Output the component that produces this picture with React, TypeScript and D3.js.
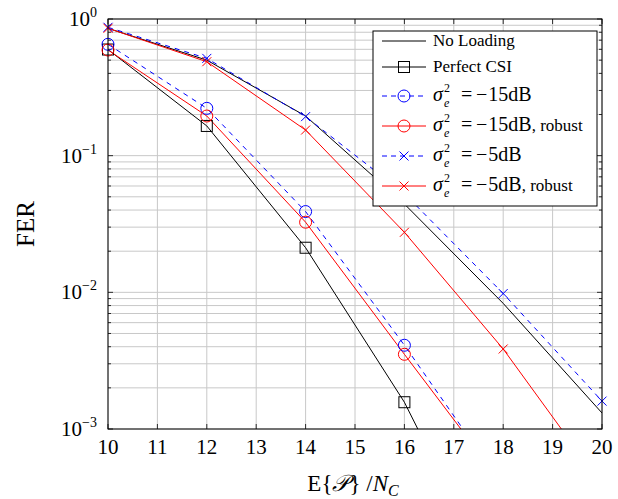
import React from "react";
import * as d3 from "d3";

const xVals = [10, 12, 14, 16, 18, 20];
const noLoading = [0.855, 0.5, 0.195, 0.0443, 0.0083, 0.00131];
const perfectCSI = [0.598, 0.165, 0.0212, 0.00157, 0.000057];
const sigma15 = [0.653, 0.222, 0.039, 0.0041, 0.00038];
const sigma15Robust = [0.593, 0.195, 0.0326, 0.00352, 0.00039];
const sigma5 = [0.87, 0.515, 0.193, 0.0527, 0.0098, 0.0016];
const sigma5Robust = [0.855, 0.487, 0.154, 0.0275, 0.00385, 0.00039];
const xTicks = [10, 11, 12, 13, 14, 15, 16, 17, 18, 19, 20];
const yDecades = [0, -1, -2, -3];

type Series = {
  name: string;
  values: number[];
  color: string;
  dash?: string;
  marker: "none" | "square" | "circle" | "x";
  label: "plain" | "math";
  db?: string;
  robust?: boolean;
};

const series: Series[] = [
  { name: "No Loading", values: noLoading, color: "#000", marker: "none", label: "plain" },
  { name: "Perfect CSI", values: perfectCSI, color: "#000", marker: "square", label: "plain" },
  { name: "s15", values: sigma15, color: "#0000ff", dash: "5,5", marker: "circle", label: "math", db: "15" },
  { name: "s15r", values: sigma15Robust, color: "#ff0000", marker: "circle", label: "math", db: "15", robust: true },
  { name: "s5", values: sigma5, color: "#0000ff", dash: "5,5", marker: "x", label: "math", db: "5" },
  { name: "s5r", values: sigma5Robust, color: "#ff0000", marker: "x", label: "math", db: "5", robust: true },
];

const L = 108, R = 602, T = 19, B = 429;
const FONT = "'Liberation Serif', 'DejaVu Serif', serif";

function Marker({ type, x, y, color }: { type: string; x: number; y: number; color: string }) {
  if (type === "square")
    return <rect x={x - 5.5} y={y - 5.5} width={11} height={11} fill="none" stroke={color} strokeWidth={1} />;
  if (type === "circle") return <circle cx={x} cy={y} r={6} fill="none" stroke={color} strokeWidth={1} />;
  if (type === "x")
    return (
      <path d={`M${x - 4.5},${y - 4.5}L${x + 4.5},${y + 4.5}M${x - 4.5},${y + 4.5}L${x + 4.5},${y - 4.5}`} stroke={color} strokeWidth={1} />
    );
  return null;
}

export default function App() {
  const xs = d3.scaleLinear().domain([10, 20]).range([L, R]);
  const ys = d3.scaleLog().domain([1e-3, 1]).range([B, T]);
  const line = d3
    .line<number>()
    .x((_, i) => xs(xVals[i]))
    .y((d) => ys(d));

  const minor: number[] = [];
  for (let e = -3; e < 0; e++) for (let m = 2; m <= 9; m++) minor.push(m * Math.pow(10, e));

  const legendX = 373, legendY = 31, legendW = 224, legendH = 175;
  const rowY = [41, 67, 96, 126, 156, 186];

  return (
    <svg width={618} height={499} style={{ position: "absolute", left: 0, top: 0 }} fontFamily={FONT}>
      <rect width={618} height={499} fill="#fff" />
      <defs>
        <clipPath id="plot">
          <rect x={L} y={T} width={R - L} height={B - T} />
        </clipPath>
      </defs>
      {/* grid */}
      <g stroke="#c8c8c8" strokeWidth={1}>
        {xTicks.map((t) => (
          <line key={"gx" + t} x1={xs(t)} x2={xs(t)} y1={T} y2={B} />
        ))}
        {minor.map((v, i) => (
          <line key={"gm" + i} x1={L} x2={R} y1={ys(v)} y2={ys(v)} />
        ))}
        {yDecades.map((e) => (
          <line key={"gy" + e} x1={L} x2={R} y1={ys(Math.pow(10, e))} y2={ys(Math.pow(10, e))} />
        ))}
      </g>
      {/* ticks */}
      <g stroke="#000" strokeWidth={0.8}>
        {xTicks.map((t) => (
          <g key={"tx" + t}>
            <line x1={xs(t)} x2={xs(t)} y1={B} y2={B - 5} />
            <line x1={xs(t)} x2={xs(t)} y1={T} y2={T + 5} />
          </g>
        ))}
        {yDecades.map((e) => (
          <g key={"ty" + e}>
            <line x1={L} x2={L + 5} y1={ys(Math.pow(10, e))} y2={ys(Math.pow(10, e))} />
            <line x1={R} x2={R - 5} y1={ys(Math.pow(10, e))} y2={ys(Math.pow(10, e))} />
          </g>
        ))}
        {minor.map((v, i) => (
          <g key={"tm" + i}>
            <line x1={L} x2={L + 3} y1={ys(v)} y2={ys(v)} />
            <line x1={R} x2={R - 3} y1={ys(v)} y2={ys(v)} />
          </g>
        ))}
      </g>
      {/* series lines */}
      <g clipPath="url(#plot)">
        {series.map((s) => (
          <path
            key={s.name}
            d={line(s.values) || ""}
            fill="none"
            stroke={s.color}
            strokeWidth={1}
            strokeDasharray={s.dash}
          />
        ))}
      </g>
      {/* markers */}
      {series.map((s) =>
        s.values.map((v, i) =>
          v >= 1e-3 && v <= 1 ? (
            <Marker key={s.name + i} type={s.marker} x={xs(xVals[i])} y={ys(v)} color={s.color} />
          ) : null
        )
      )}
      {/* frame */}
      <rect x={L} y={T} width={R - L} height={B - T} fill="none" stroke="#000" strokeWidth={1} />
      {/* x tick labels */}
      {xTicks.map((t) => (
        <text key={"lx" + t} x={xs(t)} y={454} textAnchor="middle" fontSize={21}>
          {t}
        </text>
      ))}
      {/* y tick labels */}
      {yDecades.map((e) => (
        <text key={"ly" + e} x={97} y={ys(Math.pow(10, e)) + 7} textAnchor="end" fontSize={21}>
          10
          <tspan dy={-9} fontSize={14}>
            {e === 0 ? "0" : "\u2212" + -e}
          </tspan>
        </text>
      ))}
      {/* axis titles */}
      <text x={28} y={224} fontSize={25} textAnchor="middle" transform="rotate(-90 28 224)" dominantBaseline="middle">
        FER
      </text>
      <text x={353} y={491} fontSize={23} textAnchor="middle">
        E{"{"}
        <tspan fontStyle="italic">𝒫</tspan>
        {"}"} /<tspan fontStyle="italic">N</tspan>
        <tspan fontStyle="italic" fontSize={16} dy={5}>
          C
        </tspan>
      </text>
      {/* legend */}
      <rect x={legendX} y={legendY} width={legendW} height={legendH} fill="#fff" stroke="#000" strokeWidth={1} />
      {series.map((s, i) => {
        const y = rowY[i];
        return (
          <g key={"lg" + s.name}>
            <line x1={382} x2={426} y1={y} y2={y} stroke={s.color} strokeWidth={1} strokeDasharray={s.dash ? "5,4" : undefined} />
            <Marker type={s.marker} x={404} y={y} color={s.color} />
            {s.label === "plain" ? (
              <text x={433} y={y + 5} fontSize={17}>
                {s.name}
              </text>
            ) : (
              <g>
                <text x={433} y={y + 5} fontSize={20} fontStyle="italic">σ</text>
                <text x={444} y={y - 4} fontSize={12}>2</text>
                <text x={444} y={y + 11} fontSize={12} fontStyle="italic">e</text>
                <text x={461} y={y + 5} fontSize={20}>=</text>
                <text x={476} y={y + 5} fontSize={20}>
                  −<tspan dx={1}>{s.db}dB</tspan>
                  {s.robust ? <tspan fontSize={17}>, robust</tspan> : null}
                </text>
              </g>
            )}
          </g>
        );
      })}
    </svg>
  );
}
